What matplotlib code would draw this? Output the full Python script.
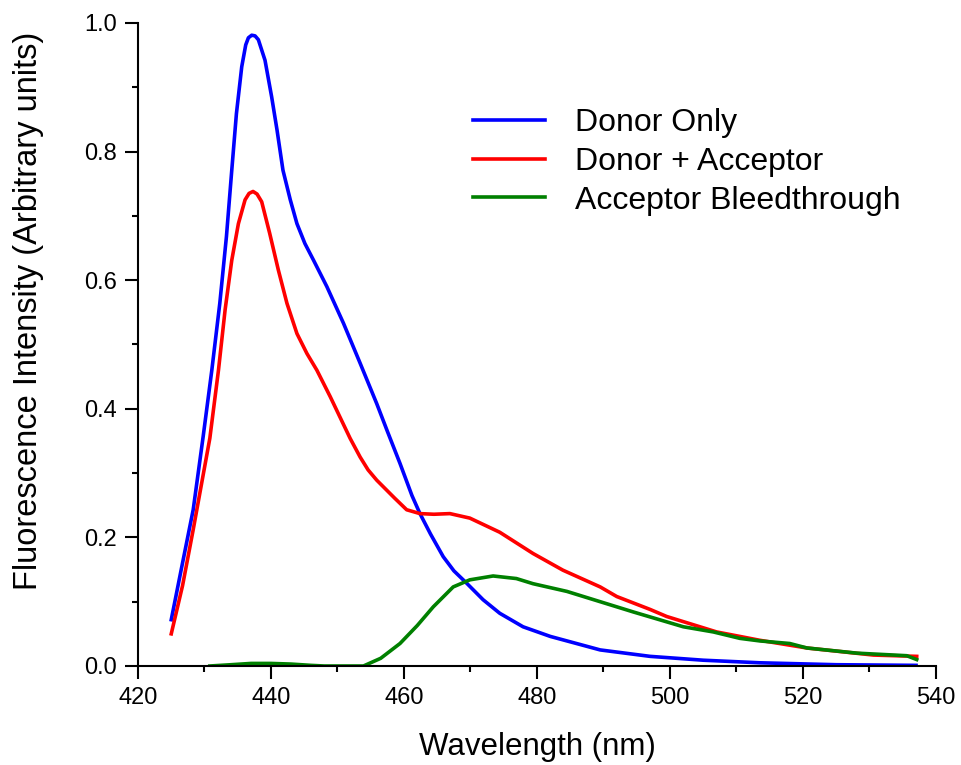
import matplotlib
matplotlib.use("Agg")
from matplotlib import pyplot as plt
from matplotlib.ticker import MultipleLocator, FormatStrFormatter

plt.rcParams["font.family"] = ["Liberation Sans", "DejaVu Sans"]

# Donor only (nm, intensity)
wl_donor = [425.0, 426.5, 428.3, 429.8, 431.1, 432.3, 433.3, 434.1, 434.8, 435.6,
            436.2, 436.6, 437.1, 437.6, 438.1, 439.1, 440.1, 440.9, 441.8, 442.9,
            443.9, 445.1, 446.4, 448.4, 450.9, 453.4, 455.9, 457.5, 459.4, 461.2,
            462.4, 464.0, 465.9, 467.5, 469.4, 471.9, 474.4, 477.9, 482.0, 489.5,
            497.0, 505.0, 513.5, 525.0, 537.0]
donor = [0.072, 0.150, 0.243, 0.357, 0.460, 0.564, 0.668, 0.771, 0.859, 0.932,
         0.966, 0.977, 0.981, 0.980, 0.974, 0.942, 0.885, 0.834, 0.771, 0.725,
         0.688, 0.657, 0.631, 0.590, 0.533, 0.471, 0.408, 0.365, 0.315, 0.265,
         0.237, 0.205, 0.170, 0.148, 0.129, 0.103, 0.082, 0.061, 0.046, 0.025,
         0.015, 0.009, 0.005, 0.002, 0.001]

# Donor + acceptor
wl_da = [425.0, 426.7, 428.3, 430.8, 432.1, 433.1, 434.1, 435.1, 436.1, 436.7,
         437.3, 437.9, 438.6, 439.8, 441.1, 442.4, 443.9, 445.4, 446.9, 448.9,
         451.9, 453.4, 454.6, 455.9, 458.6, 460.4, 462.4, 464.5, 466.9, 469.9,
         474.4, 479.4, 483.9, 489.5, 492.0, 497.0, 499.5, 507.0, 513.5, 520.6,
         530.6, 537.1]
donor_acceptor = [0.050, 0.125, 0.212, 0.354, 0.460, 0.554, 0.631, 0.688, 0.725, 0.735,
                  0.738, 0.734, 0.722, 0.673, 0.616, 0.564, 0.517, 0.486, 0.460, 0.419,
                  0.354, 0.325, 0.305, 0.289, 0.261, 0.243, 0.237, 0.236, 0.237, 0.230,
                  0.208, 0.175, 0.149, 0.123, 0.108, 0.088, 0.077, 0.053, 0.040, 0.028,
                  0.017, 0.015]

# Acceptor bleedthrough
wl_ab = [430.8, 434.0, 437.0, 440.0, 443.0, 446.0, 448.0, 453.9, 456.5, 459.4,
         462.0, 464.4, 467.4, 469.9, 473.4, 476.9, 479.4, 484.5, 489.5, 494.5,
         502.0, 506.5, 510.5, 513.5, 518.0, 520.6, 528.1, 535.6, 537.1]
bleed = [0.000, 0.002, 0.004, 0.004, 0.003, 0.001, 0.000, 0.000, 0.012, 0.035,
         0.063, 0.092, 0.123, 0.134, 0.140, 0.136, 0.128, 0.116, 0.100, 0.084,
         0.061, 0.053, 0.043, 0.039, 0.035, 0.028, 0.020, 0.016, 0.010]

labels = ["Donor Only", "Donor + Acceptor", "Acceptor Bleedthrough"]

fig = plt.figure(figsize=(9.61, 7.65), dpi=100)
ax = fig.add_axes([138 / 961, 1 - 666 / 765, 798 / 961, 643 / 765])

lw = 2.6
ax.plot(wl_donor, donor, color="#0000ff", lw=lw, label=labels[0])
ax.plot(wl_da, donor_acceptor, color="#ff0000", lw=lw, label=labels[1])
ax.plot(wl_ab, bleed, color="#008000", lw=lw, label=labels[2])

ax.set_xlim(420, 540)
ax.set_ylim(0, 1.0)
ax.xaxis.set_major_locator(MultipleLocator(20))
ax.xaxis.set_minor_locator(MultipleLocator(10))
ax.yaxis.set_major_locator(MultipleLocator(0.2))
ax.yaxis.set_minor_locator(MultipleLocator(0.1))
ax.yaxis.set_major_formatter(FormatStrFormatter("%.1f"))

for s in ["top", "right"]:
    ax.spines[s].set_visible(False)
for s in ["left", "bottom"]:
    ax.spines[s].set_linewidth(1.5)

ax.tick_params(which="major", direction="out", length=9.4, width=1.5, labelsize=17, pad=6)
ax.tick_params(which="minor", direction="out", length=4.5, width=1.5)

ax.set_xlabel("Wavelength (nm)", fontsize=22.5, labelpad=16)
ax.set_ylabel("Fluorescence Intensity (Arbitrary units)", fontsize=23.5)
ax.yaxis.set_label_coords(-0.118, 0.552)

ax.legend(loc="upper left", bbox_to_anchor=(0.384, 0.912), frameon=False, fontsize=23,
          handlelength=2.25, handletextpad=0.95, labelspacing=0.27)

plt.savefig("out.png", dpi=100)
